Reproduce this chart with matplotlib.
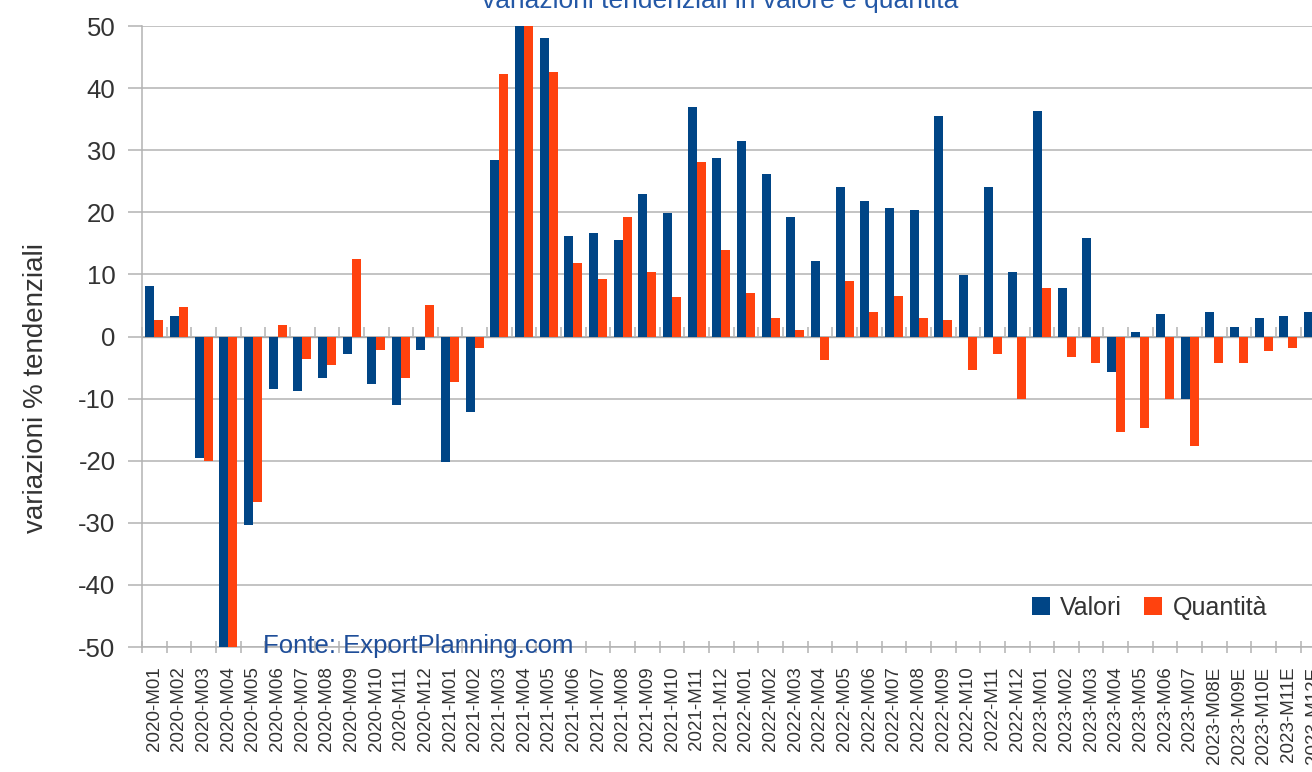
import numpy as np
import matplotlib.pyplot as plt

# --- Data ---
mesi = [
    '2020-M01', '2020-M02', '2020-M03', '2020-M04', '2020-M05', '2020-M06',
    '2020-M07', '2020-M08', '2020-M09', '2020-M10', '2020-M11', '2020-M12',
    '2021-M01', '2021-M02', '2021-M03', '2021-M04', '2021-M05', '2021-M06',
    '2021-M07', '2021-M08', '2021-M09', '2021-M10', '2021-M11', '2021-M12',
    '2022-M01', '2022-M02', '2022-M03', '2022-M04', '2022-M05', '2022-M06',
    '2022-M07', '2022-M08', '2022-M09', '2022-M10', '2022-M11', '2022-M12',
    '2023-M01', '2023-M02', '2023-M03', '2023-M04', '2023-M05', '2023-M06',
    '2023-M07', '2023-M08E', '2023-M09E', '2023-M10E', '2023-M11E', '2023-M12E',
]
valori = [
    8.1, 3.3, -19.6, -55.0, -30.3, -8.5,
    -8.8, -6.6, -2.8, -7.6, -11.0, -2.1,
    -20.2, -12.1, 28.5, 57.0, 48.1, 16.2,
    16.6, 15.5, 22.9, 19.9, 36.9, 28.8,
    31.5, 26.2, 19.2, 12.2, 24.0, 21.8,
    20.7, 20.3, 35.5, 9.9, 24.0, 10.4,
    36.3, 7.8, 15.9, -5.7, 0.7, 3.7,
    -10.0, 4.0, 1.5, 3.0, 3.3, 4.0,
]
quantita = [
    2.6, 4.8, -20.0, -58.0, -26.7, 1.9,
    -3.7, -4.6, 12.5, -2.2, -6.6, 5.1,
    -7.3, -1.8, 42.2, 53.0, 42.6, 11.8,
    9.2, 19.2, 10.4, 6.3, 28.1, 14.0,
    7.0, 3.0, 1.1, -3.8, 8.9, 4.0,
    6.6, 3.0, 2.6, -5.4, -2.8, -10.0,
    7.8, -3.3, -4.3, -15.4, -14.7, -10.0,
    -17.6, -4.3, -4.3, -2.4, -1.8, -0.6,
]

BLU = '#004586'
ARANCIO = '#ff420e'
GRIGIO = '#b3b3b3'
TESTO = '#333333'
TITOLO = '#2458a6'

plt.rcParams['font.family'] = ['Liberation Sans', 'DejaVu Sans']
plt.rcParams['axes.unicode_minus'] = False  # plain hyphen as in the reference

fig = plt.figure(figsize=(13.12, 7.72), dpi=100)
# the right part of the plot area is cut off in the reference
ax = fig.add_axes([0.1082, 0.1619, 0.9020, 0.8044])

x = np.arange(len(mesi))
w = 0.365
ax.bar(x - w / 2, valori, width=w, color=BLU, label='Valori', zorder=3)
ax.bar(x + w / 2, quantita, width=w, color=ARANCIO, label='Quantità', zorder=3)

ax.set_xlim(-0.5, len(mesi) - 0.5)
ax.set_ylim(-50, 50)
ax.set_yticks(np.arange(-50, 51, 10))
ax.yaxis.grid(True, color=GRIGIO, linewidth=1.1, zorder=0)
ax.axhline(0, color=GRIGIO, linewidth=1.1, zorder=1)
ax.tick_params(axis='y', direction='out', length=10, width=1.1, color=GRIGIO,
               labelsize=18.5, labelcolor=TESTO, pad=9)

# category labels at bar groups, tick marks at group boundaries
ax.set_xticks(x)
ax.set_xticklabels(mesi, rotation=90, fontsize=13.5, color=TESTO)
ax.set_xticks(np.arange(-0.5, len(mesi), 1), minor=True)
ax.tick_params(axis='x', which='major', length=0, pad=14)
ax.tick_params(axis='x', which='minor', direction='inout', length=9,
               width=1.1, color=GRIGIO)

for side in ['top', 'right']:
    ax.spines[side].set_visible(False)
for side in ['left', 'bottom']:
    ax.spines[side].set_color(GRIGIO)
    ax.spines[side].set_linewidth(1.1)

# small tick marks along the zero line
asse0 = ax.secondary_xaxis(0.5)
asse0.set_xticks(np.arange(-0.5, len(mesi), 1))
asse0.set_xticklabels([])
asse0.tick_params(axis='x', direction='out', length=7, width=1.1, color=GRIGIO)
asse0.spines['bottom'].set_visible(False)

ax.text(4.42, -50.9, 'Fonte: ExportPlanning.com', color='#1f4e99',
        fontsize=18.5, ha='left', va='baseline', zorder=5)

fig.text(0.0275, 0.497, 'variazioni % tendenziali', rotation=90,
         ha='center', va='center', fontsize=20, color=TESTO)
fig.text(720 / 1312, 1 - 8 / 772, 'variazioni tendenziali in valore e quantità',
         ha='center', va='baseline', fontsize=19, color=TITOLO)

fig.legend(loc='center left', bbox_to_anchor=(1032 / 1312, 1 - 608 / 772),
           ncol=2, frameon=False, fontsize=18, borderpad=0, borderaxespad=0,
           handlelength=0.72, handleheight=0.72, handletextpad=0.4,
           columnspacing=0.9, labelcolor=TESTO)

fig.savefig('out.png', dpi=100)
plt.close(fig)
